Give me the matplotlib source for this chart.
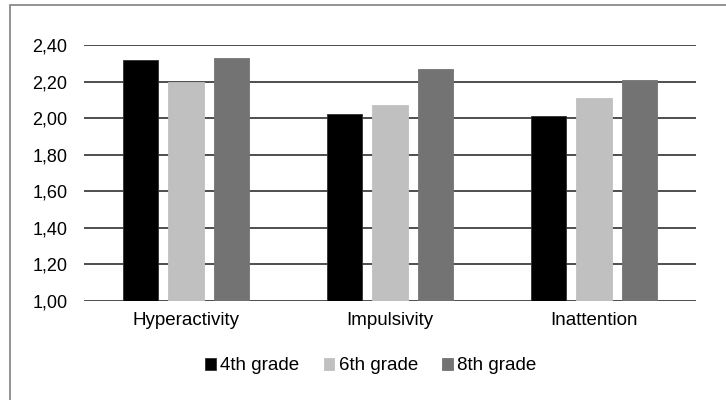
import matplotlib.pyplot as plt
from matplotlib.patches import Rectangle
import numpy as np

plt.rcParams['font.family'] = ['Liberation Sans', 'DejaVu Sans']

categories = ['Hyperactivity', 'Impulsivity', 'Inattention']
grades = ['4th grade', '6th grade', '8th grade']
grade4 = [2.32, 2.02, 2.01]
grade6 = [2.20, 2.07, 2.11]
grade8 = [2.33, 2.27, 2.21]
yticks = [1.0, 1.2, 1.4, 1.6, 1.8, 2.0, 2.2, 2.4]
ytick_labels = ['1,00', '1,20', '1,40', '1,60', '1,80', '2,00', '2,20', '2,40']

colors = ['#000000', '#c0c0c0', '#737373']
W, H = 726, 400
fig = plt.figure(figsize=(W / 100, H / 100), dpi=100)
ax = fig.add_axes([84 / W, 1 - 301 / H, (696 - 84) / W, (301 - 45) / H])

x = np.arange(len(categories))
bar_width = 0.172
step = 0.223
for i, (vals, name) in enumerate(zip([grade4, grade6, grade8], grades)):
    ax.bar(x + (i - 1) * step, [v - 1.0 for v in vals], bar_width, bottom=1.0,
           color=colors[i], label=name, zorder=3,
           edgecolor='#303030' if i == 0 else colors[i], linewidth=0.6)

fs = 13.5
ax.set_ylim(1.0, 2.4)
ax.set_xlim(-0.5, 2.5)
ax.set_yticks(yticks)
ax.set_yticklabels(ytick_labels, fontsize=fs - 0.5)
ax.set_xticks(x)
ax.set_xticklabels(categories, fontsize=fs)
ax.tick_params(length=0, pad=12, axis='y')
ax.tick_params(length=0, pad=8, axis='x')
ax.yaxis.grid(True, color='#404040', linewidth=1.3, zorder=0)
for s in ax.spines.values():
    s.set_visible(False)

leg = fig.legend(loc='center', bbox_to_anchor=(371 / W, 1 - 366 / H), ncol=3,
                 frameon=False, fontsize=fs, handlelength=0.55, handleheight=0.55,
                 handletextpad=0.25, columnspacing=1.3)

# outer chart frame
fig.patches.append(Rectangle((10 / W, -0.1), 1.2, 1 - 5 / H + 0.1,
                             transform=fig.transFigure, fill=False,
                             edgecolor='#808080', linewidth=1.2))

fig.savefig('out.png', dpi=100)
